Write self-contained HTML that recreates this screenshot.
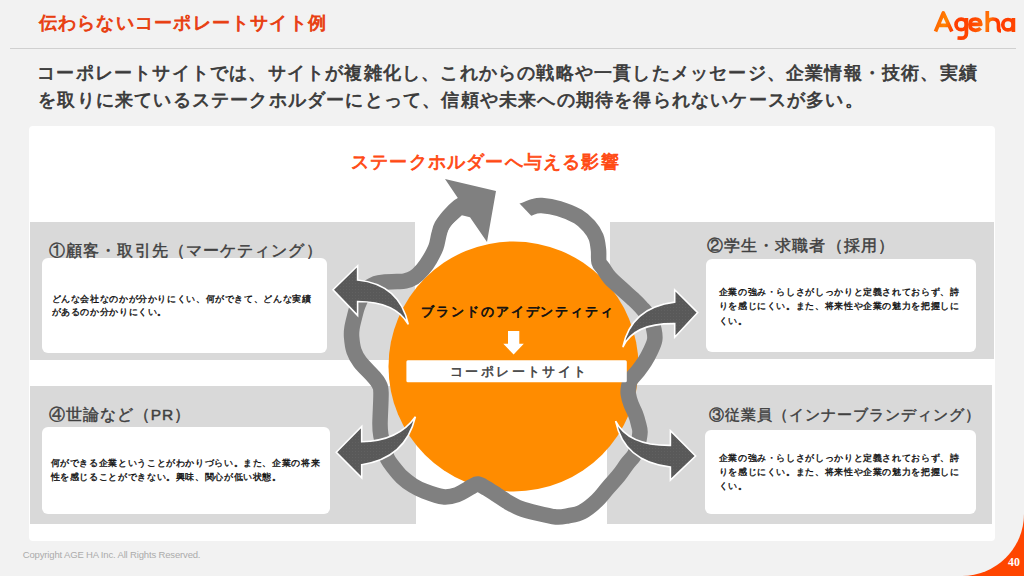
<!DOCTYPE html>
<html><head><meta charset="utf-8">
<style>
html,body{margin:0;padding:0;}
body{width:1024px;height:576px;position:relative;overflow:hidden;background:#ff4500;font-family:"Liberation Sans",sans-serif;}
#bg{position:absolute;left:0;top:0;width:1024px;height:576px;background:#f2f2f2;border-bottom-right-radius:62px;}
.t{position:absolute;white-space:nowrap;font-weight:bold;line-height:normal;}
#hr{position:absolute;left:10px;top:48px;width:1006px;height:1px;background:#d0d0d0;}
#panel{position:absolute;left:29px;top:126px;width:966px;height:415px;background:#fff;border-radius:4px;}
.gbox{position:absolute;background:#d9d9d9;}
.card{position:absolute;background:#fff;border-radius:6px;}
.ti{font-size:18px;letter-spacing:1.22px;color:#e83e10;font-weight:normal;-webkit-text-stroke-width:0.9px;}
.pa{font-size:17.5px;letter-spacing:1.2px;color:#3a3a3a;font-weight:normal;-webkit-text-stroke-width:0.75px;}
.su{font-size:18px;letter-spacing:1.2px;color:#ff4a14;font-weight:normal;-webkit-text-stroke-width:0.8px;}
.hd{font-size:15.5px;color:#404040;font-weight:normal;-webkit-text-stroke-width:0.45px;}
.ct{font-size:8.5px;letter-spacing:0.63px;color:#111;font-weight:normal;-webkit-text-stroke-width:0.35px;}
#brand{left:421.3px;top:303.4px;font-size:13px;letter-spacing:1.9px;color:#111;font-weight:normal;-webkit-text-stroke-width:0.7px;}
#corp{left:450px;top:362.9px;font-size:13px;letter-spacing:2.4px;color:#404040;font-weight:normal;-webkit-text-stroke-width:0.5px;}
#copy{position:absolute;white-space:nowrap;left:22.8px;top:548.7px;font-size:9.5px;letter-spacing:-0.16px;color:#ababab;}
#pnum{left:1008px;top:555px;font-size:11.8px;font-family:'Liberation Serif',serif;color:#fff;}
</style></head><body>
<div id="bg"></div>
<div class="t ti" style="left:38.8px;top:10.6px;">伝わらないコーポレートサイト例</div>
<div id="hr"></div>
<svg width="1024" height="60" style="position:absolute;left:0;top:0">
<defs><linearGradient id="lg" gradientUnits="userSpaceOnUse" x1="930" y1="10" x2="1018" y2="38">
<stop offset="0" stop-color="#ff5200"/><stop offset="0.12" stop-color="#ff6a00"/><stop offset="0.2" stop-color="#ff8400"/><stop offset="0.3" stop-color="#ff3c00"/><stop offset="0.5" stop-color="#ff4800"/><stop offset="0.64" stop-color="#ff7a08"/><stop offset="0.72" stop-color="#ff3800"/><stop offset="1" stop-color="#ff4a00"/></linearGradient></defs>
<g fill="none" stroke="url(#lg)" stroke-width="3.7" stroke-linecap="butt" stroke-linejoin="round">
<path d="M935.5,31.5 L943.3,13 L951.8,31.5 M938.8,25.3 L948.6,25.3"/>
<circle cx="961.2" cy="24.4" r="5.2"/>
<path d="M966.4,18 L966.4,33.5 Q966.4,38.2 961,38.2 L957.5,38"/>
<path d="M969.9,24.4 L980.8,24.4 Q980.6,19 975.3,19 Q969.9,19 969.9,24.6 Q969.9,30.3 975.5,30.3 Q978.8,30.3 980.6,28.3"/>
<path d="M987.3,11 L987.3,32 M987.3,24.5 Q987.3,19 992.9,19 Q998.5,19 998.5,24.5 L998.5,28 Q998.5,31 1001,31"/>
<circle cx="1008" cy="24.7" r="5.2"/>
<path d="M1013.4,18 L1013.4,32"/>
</g></svg>
<div class="t pa" style="left:37.2px;top:61px;">コーポレートサイトでは、サイトが複雑化し、これからの戦略や一貫したメッセージ、企業情報・技術、実績</div>
<div class="t pa" style="left:38.2px;top:87.7px;">を取りに来ているステークホルダーにとって、信頼や未来への期待を得られないケースが多い。</div>
<div id="panel"></div>

<div class="gbox" style="left:30.2px;top:221.5px;width:385.1px;height:138.3px;"></div>
<div class="gbox" style="left:609.7px;top:221.8px;width:384px;height:137px;"></div>
<div class="gbox" style="left:30.3px;top:385.5px;width:385.3px;height:138px;"></div>
<div class="gbox" style="left:606.6px;top:385px;width:385.4px;height:138.7px;"></div>


<div class="card" style="left:42.4px;top:258.2px;width:285px;height:94.8px;"></div>
<div class="card" style="left:705.5px;top:259px;width:270.5px;height:93px;"></div>
<div class="card" style="left:42.4px;top:427.2px;width:288px;height:87px;"></div>
<div class="card" style="left:705.2px;top:429.6px;width:271px;height:84.6px;"></div>

<div class="t hd" style="left:49.1px;top:240.5px;letter-spacing:1.1px;">①顧客・取引先（マーケティング）</div>
<div class="t hd" style="left:706.7px;top:236.2px;letter-spacing:1.13px;">②学生・求職者（採用）</div>
<div class="t hd" style="left:48.7px;top:405px;letter-spacing:1.0px;">④世論など（PR）</div>
<div class="t hd" style="left:708.5px;top:405.8px;font-size:15px;letter-spacing:1.03px;">③従業員（インナーブランディング）</div>

<div class="t ct" style="left:51.5px;top:293.8px;">どんな会社なのかが分かりにくい、何ができて、どんな実績</div>
<div class="t ct" style="left:51.5px;top:306.9px;">があるのか分かりにくい。</div>
<div class="t ct" style="left:718.7px;top:286.9px;">企業の強み・らしさがしっかりと定義されておらず、詩</div>
<div class="t ct" style="left:718.7px;top:301px;">りを感じにくい。また、将来性や企業の魅力を把握しに</div>
<div class="t ct" style="left:718.7px;top:315.5px;">くい。</div>
<div class="t ct" style="left:50.6px;top:457.8px;">何ができる企業ということがわかりづらい。また、企業の将来</div>
<div class="t ct" style="left:50.6px;top:472.2px;">性を感じることができない。興味、関心が低い状態。</div>
<div class="t ct" style="left:718.7px;top:452.5px;">企業の強み・らしさがしっかりと定義されておらず、詩</div>
<div class="t ct" style="left:718.7px;top:466.6px;">りを感じにくい。また、将来性や企業の魅力を把握しに</div>
<div class="t ct" style="left:718.7px;top:480.6px;">くい。</div>

<div class="t su" style="left:351px;top:150.2px;">ステークホルダーへ与える影響</div>

<svg style="position:absolute;left:0;top:0" width="1024" height="576" viewBox="0 0 1024 576">
<circle cx="513.5" cy="366.5" r="125" fill="#ff8c00"/>
<path d="M516.0,213.0 C517.7,212.4 523.0,210.6 526.0,209.5 C529.0,208.4 531.4,207.2 534.0,206.5 C536.6,205.8 537.5,205.2 541.7,205.5 C545.9,205.8 553.0,206.8 559.0,208.6 C565.0,210.4 573.0,213.6 578.0,216.5 C583.0,219.4 586.0,222.6 589.0,226.0 C592.0,229.4 594.4,233.0 596.0,237.0 C597.6,241.0 598.0,245.8 598.5,250.0 C599.0,254.2 598.2,259.0 599.0,262.0 C599.8,265.0 601.2,265.3 603.0,268.0 C604.8,270.7 606.7,274.3 610.0,278.0 C613.3,281.7 619.2,286.5 623.0,290.0 C626.8,293.5 630.0,296.2 633.0,299.0 C636.0,301.8 638.2,303.8 641.0,307.0 C643.8,310.2 647.8,314.2 650.0,318.0 C652.2,321.8 653.2,326.3 654.0,330.0 C654.8,333.7 655.3,336.5 654.7,340.0 C654.1,343.5 652.2,347.4 650.5,351.0 C648.8,354.6 646.8,358.4 644.7,361.7 C642.6,365.0 640.4,367.9 638.0,371.0 C635.6,374.1 632.1,377.2 630.5,380.0 C628.9,382.8 628.9,385.7 628.5,388.0 C628.1,390.3 627.9,391.3 628.3,394.0 C628.7,396.7 629.8,400.7 631.0,404.0 C632.2,407.3 634.2,410.7 635.5,414.0 C636.8,417.3 637.8,421.0 638.5,424.0 C639.2,427.0 640.1,428.7 640.0,432.0 C639.9,435.3 638.9,440.2 638.0,444.0 C637.1,447.8 636.3,451.4 634.5,454.7 C632.7,458.0 629.7,460.4 627.0,464.0 C624.3,467.6 621.5,472.1 618.3,476.0 C615.1,479.9 611.5,483.6 608.0,487.7 C604.5,491.8 601.3,496.4 597.0,500.5 C592.7,504.6 586.8,509.4 582.0,512.0 C577.2,514.5 572.3,515.0 568.0,515.8 C563.7,516.6 561.2,517.5 556.0,517.0 C550.8,516.5 542.7,514.5 536.7,513.0 C530.7,511.6 525.0,510.2 520.0,508.3 C515.0,506.4 510.8,503.8 507.0,501.6 C503.2,499.4 500.4,497.2 497.0,495.0 C493.6,492.8 489.7,490.1 486.5,488.3 C483.3,486.5 480.4,484.3 478.0,484.0 C475.6,483.7 475.5,484.7 472.0,486.5 C468.5,488.3 461.8,493.0 457.0,494.7 C452.2,496.4 448.5,497.4 443.0,496.8 C437.5,496.2 429.0,492.9 424.0,491.0 C419.0,489.1 416.6,487.8 412.9,485.5 C409.2,483.2 405.1,480.1 401.8,477.0 C398.5,473.9 395.5,469.9 393.0,466.7 C390.5,463.5 388.5,460.9 387.0,457.6 C385.5,454.3 385.0,450.6 384.0,447.0 C383.0,443.4 381.7,439.8 381.0,436.0 C380.3,432.2 380.0,431.2 380.0,424.0 C380.0,416.8 381.2,399.4 381.0,392.7 C380.8,386.0 380.3,386.8 379.0,384.0 C377.7,381.2 376.2,379.7 373.0,376.0 C369.8,372.3 363.2,366.2 360.0,362.0 C356.8,357.8 355.4,355.2 354.0,351.0 C352.6,346.8 351.9,340.6 351.6,336.8 C351.3,333.0 351.5,331.3 352.0,328.0 C352.5,324.7 353.5,320.8 354.5,317.0 C355.5,313.2 356.1,309.5 358.0,305.0 C359.9,300.5 363.0,293.6 366.0,290.0 C369.0,286.4 372.8,284.8 376.0,283.5 C379.2,282.2 381.5,282.3 385.0,282.0 C388.5,281.7 393.7,281.8 397.0,281.6 C400.3,281.4 402.2,281.7 405.0,281.0 C407.8,280.3 411.1,279.4 414.0,277.5 C416.9,275.6 419.9,272.6 422.6,269.5 C425.3,266.4 427.8,262.8 430.0,259.0 C432.2,255.2 434.5,251.0 436.0,247.0 C437.5,243.0 437.9,238.5 438.8,235.0 C439.8,231.5 440.0,229.2 441.7,226.0 C443.4,222.8 446.3,219.2 449.0,216.0 C451.7,212.8 454.8,209.5 458.0,207.0 C461.2,204.5 466.3,202.0 468.0,201.0" fill="none" stroke="#808080" stroke-width="15.5" stroke-linejoin="round"/>
<path d="M445,179 L496,191 L487,242 L470,217.3 L461.9,215.3 L449.5,226.4 L446,235.1 L440,232 L447,214 L458,198.3 Z" fill="#808080"/>
<defs><pattern id="dots" width="3" height="3" patternUnits="userSpaceOnUse"><rect width="3" height="3" fill="#595959"/><rect x="1" y="1" width="0.8" height="0.8" fill="#656565"/></pattern></defs>
<g fill="url(#dots)" stroke="#fff" stroke-width="1.6" stroke-linejoin="miter">
<path d="M333,289.7 L357.6,265.8 L357.6,280 Q399.4,284.3 408.3,324.4 Q395.4,301.6 357.6,301.5 L357.6,315.4 Z"/>
<path d="M697.7,312.6 L674.7,289.8 L674.7,302.1 Q631.3,307.4 622.8,347.1 Q633.3,323.2 674.7,323.6 L674.7,337.3 Z"/>
<path d="M336.25,452.2 L361.7,426.5 L361.7,441.8 Q398.3,441.1 415.4,416.8 Q405.4,458.4 361.7,464.7 L361.7,477.9 Z"/>
<path d="M695.6,456 L670.4,430.8 L670.4,445.4 Q628.1,445.7 615.6,421.1 Q624.1,461.7 670.4,467 L670.4,480.2 Z"/>
</g>
<path d="M510,193.6 L540,224.9 L505,232 L498,195 Z" fill="#fff"/>
<path d="M508,331 L519.3,331 L519.3,343.7 L523.8,343.7 L513.6,354.6 L503.3,343.7 L508,343.7 Z" fill="#fff"/>
<rect x="406.4" y="360.2" width="220.4" height="22.1" rx="1.5" fill="#fff"/>
</svg>

<div class="t" id="brand">ブランドのアイデンティティ</div>
<div class="t" id="corp">コーポレートサイト</div>
<div id="copy">Copyright AGE HA Inc. All Rights Reserved.</div>
<div class="t" id="pnum">40</div>
</body></html>
